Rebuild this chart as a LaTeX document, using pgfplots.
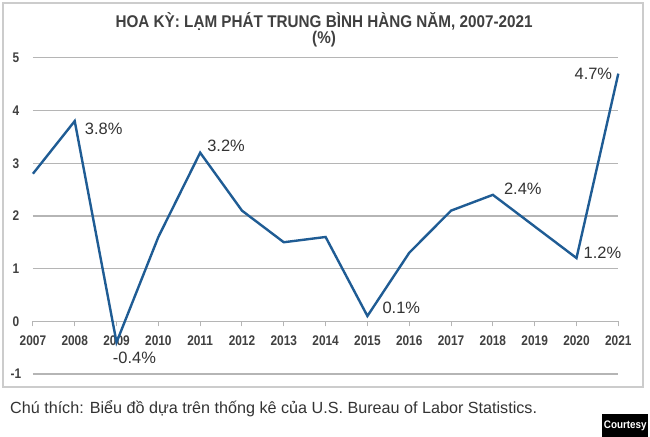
\documentclass[border=0pt]{standalone}
\usepackage{fontspec}
\setmainfont{Liberation Sans}
\newfontfamily\narrow[FakeStretch=0.9]{Liberation Sans}
\newfontfamily\ticknarrow[FakeStretch=0.85]{Liberation Sans}
\usepackage{pgfplots}
\pgfplotsset{compat=1.18}
\definecolor{linblue}{HTML}{1F5C94}
\definecolor{gridgray}{HTML}{B5B5B5}
\definecolor{txt}{HTML}{333333}
\definecolor{ttl}{HTML}{404040}

\begin{document}
\begin{tikzpicture}[x=1pt,y=1pt]
% page and outer frame (1 px = 1 pt, axis box lower left at origin)
\fill[white] (-33,-63) rectangle (617,375);
\draw[gray!40, line width=1.5pt] (-30,-13) rectangle (612,372);
\node[text=ttl, font=\narrow\bfseries\fontsize{17}{17}\selectfont] at (292,353) {HOA KỲ: LẠM PHÁT TRUNG BÌNH HÀNG NĂM, 2007-2021};
\node[text=ttl, font=\narrow\bfseries\fontsize{17}{17}\selectfont] at (292,336) {(\%)};
\node[anchor=west, text=txt, font=\fontsize{16.2}{16.2}\selectfont, inner sep=0pt] at (-23,-35) {Chú thích: Biểu đồ dựa trên thống kê của U.S. Bureau of Labor Statistics.};
\fill[black] (571,-63) rectangle (617,-40);
\node[text=white, font=\narrow\bfseries\fontsize{11}{11}\selectfont] at (594,-51.5) {Courtesy};

\begin{axis}[at={(0,0)}, anchor=south west,
  width=587pt, height=317pt, scale only axis,
  xmin=2007, xmax=2021, ymin=-1, ymax=5,
  axis x line=middle, axis y line=left,
  x axis line style={-, gridgray, line width=1.2pt},
  y axis line style={draw=none},
  xtick={2007,2008,2009,2010,2011,2012,2013,2014,2015,2016,2017,2018,2019,2020,2021},
  xticklabels={2007,2008,2009,2010,2011,2012,2013,2014,2015,2016,2017,2018,2019,2020,2021},
  ytick={-1,0,1,2,3,4,5},
  yticklabels={-1,0,1,2,3,4,5},
  ymajorgrids, grid style={gridgray, line width=1.2pt},
  xtick style={gridgray, line width=1pt}, ytick style={draw=none},
  tick align=outside, major tick length=5pt,
  hide obscured x ticks=false,
  xticklabel style={font=\ticknarrow\bfseries\fontsize{14}{14}\selectfont, text=ttl, anchor=center, yshift=-14pt},
  yticklabel style={font=\ticknarrow\bfseries\fontsize{14}{14}\selectfont, text=ttl, anchor=center, xshift=-12pt},
  clip=false]
\addplot[linblue, line width=2.4pt] coordinates {
  (2007,2.8) (2008,3.8) (2009,-0.4) (2010,1.6) (2011,3.2) (2012,2.1) (2013,1.5) (2014,1.6)
  (2015,0.1) (2016,1.3) (2017,2.1) (2018,2.4) (2019,1.8) (2020,1.2) (2021,4.7)};
\begin{scope}[every node/.style={text=txt, font=\fontsize{16.5}{16.5}\selectfont, inner sep=0pt}]
\node[anchor=west] at ([xshift=10pt,yshift=-8pt]axis cs:2008,3.8) {3.8\%};
\node[anchor=center] at ([xshift=18pt,yshift=-16pt]axis cs:2009,-0.4) {-0.4\%};
\node[anchor=west] at ([xshift=7pt,yshift=7pt]axis cs:2011,3.2) {3.2\%};
\node[anchor=west] at ([xshift=15pt,yshift=8pt]axis cs:2015,0.1) {0.1\%};
\node[anchor=west] at ([xshift=11pt,yshift=6pt]axis cs:2018,2.4) {2.4\%};
\node[anchor=west] at ([xshift=7pt,yshift=5pt]axis cs:2020,1.2) {1.2\%};
\node[anchor=east] at ([xshift=-6pt,yshift=0pt]axis cs:2021,4.7) {4.7\%};
\end{scope}
\end{axis}
\end{tikzpicture}
\end{document}
